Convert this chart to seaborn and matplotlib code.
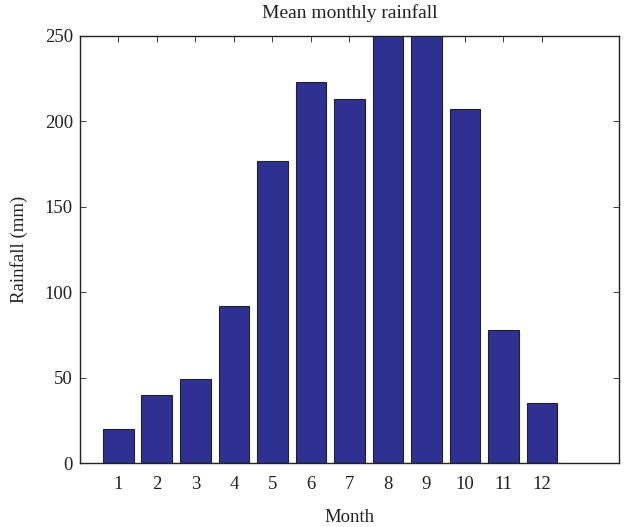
import matplotlib
matplotlib.use("Agg")
import matplotlib.pyplot as plt
import seaborn as sns
import pandas as pd

months = [1, 2, 3, 4, 5, 6, 7, 8, 9, 10, 11, 12]
rainfall = [20, 40, 49, 92, 177, 223, 213, 262, 258, 207, 78, 35]
yticks = [0, 50, 100, 150, 200, 250]

sns.set_theme(style="ticks")
plt.rcParams['font.family'] = ['Liberation Serif', 'DejaVu Serif']

df = pd.DataFrame({"Month": months, "Rainfall": rainfall})

fig = plt.figure(figsize=(6.24, 5.27), dpi=100)
ax = fig.add_axes([0.128, 0.121, 0.864, 0.811])
sns.barplot(data=df, x="Month", y="Rainfall", native_scale=True, width=0.8,
            color="#2E3192", saturation=1, edgecolor="#222222", linewidth=0.8, ax=ax)

ax.set_xlim(0, 14)
ax.set_ylim(0, 250)
ax.set_xticks(months)
ax.set_xticklabels([str(m) for m in months])
ax.set_yticks(yticks)
ax.tick_params(direction="in", top=True, right=True, length=4, width=0.6,
               labelsize=13.5, colors="#222222", pad=9)
ax.tick_params(axis="y", pad=5)
for s in ax.spines.values():
    s.set_visible(True)
    s.set_linewidth(1.0)
    s.set_color("#222222")
ax.set_xlabel("Month", fontsize=13.5, color="#222222", labelpad=12)
ax.set_ylabel("Rainfall (mm)", fontsize=13.5, color="#222222", labelpad=12)
ax.set_title("Mean monthly rainfall", fontsize=14, color="#222222", pad=13)

fig.savefig("out.png", dpi=100)
